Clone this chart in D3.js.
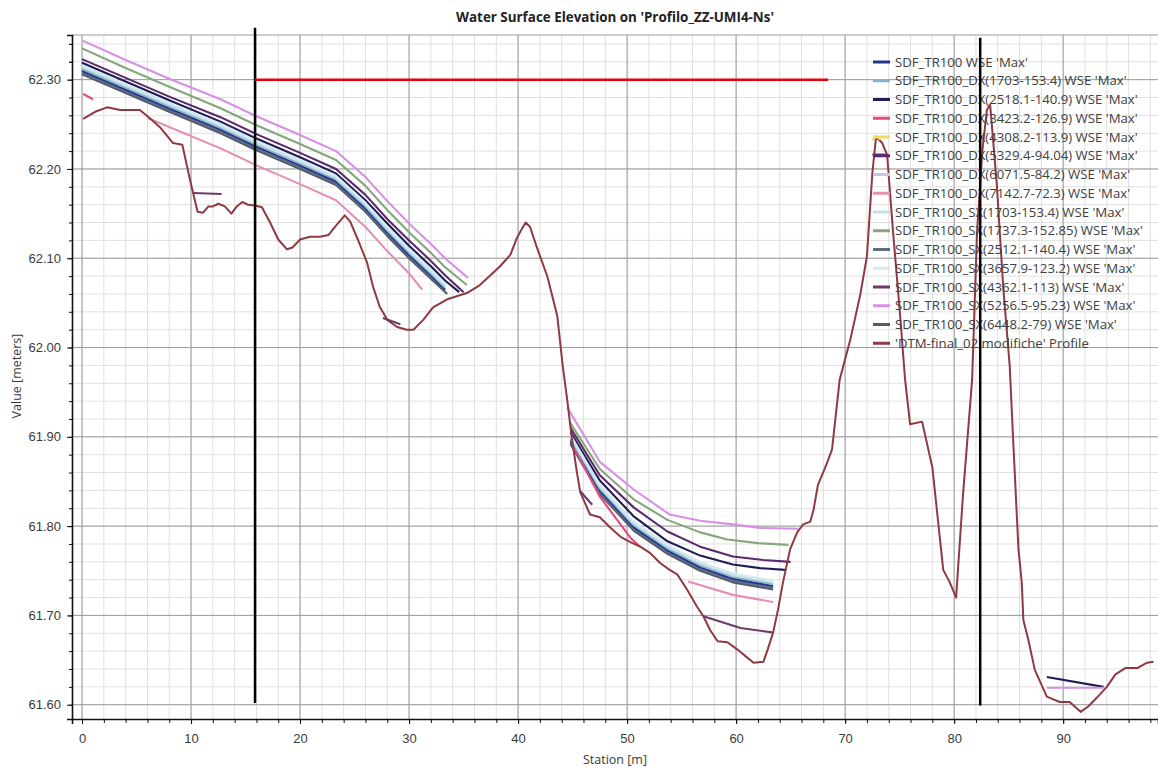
<!DOCTYPE html>
<html>
<head>
<meta charset="utf-8">
<script src="https://cdn.jsdelivr.net/npm/d3@7"></script>
<style>
  body { margin: 0; background: #fff; }
  svg { font-family: "Open Sans", "Noto Sans", sans-serif; }
</style>
</head>
<body>
<div id="chart"></div>
<script>
/* WSE profile chart - HEC-RAS style */

// ---- data: [station, value] pairs, null = break in the line ----
const sdf = [[0,62.310],[4,62.289],[8,62.268],[12.7,62.244],[16,62.225],[20,62.204],[23.3,62.186],[26,62.156],[28,62.129],[30,62.104],[32,62.081],[33.3,62.065],
  null,[44.8,61.896],[47.5,61.840],[50.6,61.799],[53.7,61.773],[56.7,61.754],[59.7,61.741],[63.4,61.733]];
const dx1703 = [[0,62.312],[4,62.291],[8,62.270],[12.7,62.246],[16,62.227],[20,62.206],[23.3,62.188],[26,62.158],[28,62.131],[30,62.106],[32,62.083],[33.3,62.067],
  null,[44.8,61.898],[47.5,61.842],[50.6,61.801],[53.7,61.775],[56.7,61.756],[59.7,61.743],[63.4,61.735]];
const dx2518 = [[0,62.319],[4,62.298],[8,62.277],[12.7,62.253],[16,62.234],[20,62.213],[23.3,62.195],[26,62.165],[28,62.139],[30,62.114],[32,62.091],[33.3,62.075],[34.6,62.062],
  null,[44.8,61.905],[47.5,61.851],[50.6,61.811],[53.7,61.783],[56.7,61.767],[59.7,61.757],[62.2,61.753],[64.5,61.751],
  null,[88.5,61.631],[93.7,61.620]];
const dx3423 = [[0.1,62.284],[1.0,62.278],
  null,[45.0,61.891],[47.5,61.833],[50.3,61.787],[51.2,61.777]];
const dx4308 = [[72.5,62.232],[72.84,62.237],[73.2,62.233]];
const dx5329 = [[0,62.323],[4,62.302],[8,62.281],[12.7,62.258],[16,62.239],[20,62.218],[23.3,62.200],[26,62.171],[28,62.144],[30,62.120],[32,62.097],[33.3,62.081],[35.0,62.062],
  null,[44.8,61.910],[47.5,61.857],[50.6,61.821],[53.7,61.794],[56.7,61.777],[59.7,61.766],[62.5,61.762],[65.0,61.760]];
const dx6071 = [[0,62.315],[4,62.294],[8,62.273],[12.7,62.249],[16,62.230],[20,62.209],[23.3,62.191],[26,62.161],[28,62.134],[30,62.109],[32,62.086],[33.3,62.070],
  null,[44.8,61.901],[47.5,61.845],[50.6,61.804],[53.7,61.778],[56.7,61.759],[59.7,61.746],[63.4,61.738]];
const dx7142 = [[6,62.257],[8,62.247],[12.7,62.223],[16,62.204],[20,62.183],[23.3,62.165],[26,62.135],[28,62.108],[30,62.083],[31.2,62.065],
  null,[55.6,61.738],[59.7,61.723],[63.4,61.715]];
const sx1703 = [[0,62.314],[4,62.293],[8,62.272],[12.7,62.248],[16,62.229],[20,62.208],[23.3,62.190],[26,62.160],[28,62.133],[30,62.108],[32,62.085],[33.3,62.069],
  null,[44.8,61.900],[47.5,61.844],[50.6,61.803],[53.7,61.777],[56.7,61.758],[59.7,61.745],[63.4,61.737]];
const sx1737 = [[0,62.335],[4,62.313],[8,62.292],[12.7,62.268],[16,62.249],[20,62.228],[23.3,62.210],[26,62.181],[28,62.154],[30,62.129],[32,62.106],[33.3,62.090],[35.3,62.070],
  null,[44.7,61.917],[47.5,61.864],[50.6,61.830],[53.7,61.807],[56.7,61.793],[59.2,61.785],[62,61.781],[64.8,61.779]];
const sx2512 = [[0,62.308],[4,62.287],[8,62.266],[12.7,62.242],[16,62.223],[20,62.202],[23.3,62.184],[26,62.154],[28,62.127],[30,62.102],[32,62.079],[33.3,62.063],
  null,[44.8,61.894],[47.5,61.838],[50.6,61.797],[53.7,61.771],[56.7,61.752],[59.7,61.739],[63.4,61.731]];
const sx3657 = [[0,62.316],[4,62.295],[8,62.274],[12.7,62.250],[16,62.231],[20,62.210],[23.3,62.192],[26,62.162],[28,62.135],[30,62.110],[32,62.087],[33.3,62.071],
  null,[44.8,61.902],[47.5,61.846],[50.6,61.805],[53.7,61.779],[56.7,61.760],[59.7,61.747],[63.4,61.739]];
const sx4362 = [[10.2,62.173],[12.8,62.172],
  null,[27.6,62.033],[29.2,62.026],
  null,[45.7,61.839],[46.8,61.824],
  null,[57.0,61.699],[60.4,61.686],[63.3,61.681],
  null,[72.5,62.216],[73.85,62.216]];
const sx5256 = [[0,62.344],[4,62.322],[8,62.301],[12.7,62.278],[16,62.259],[20,62.238],[23.3,62.220],[26,62.191],[28,62.164],[30,62.139],[32,62.116],[33.3,62.100],[35.4,62.078],
  null,[44.5,61.933],[47.5,61.872],[50.6,61.841],[53.9,61.813],[56.7,61.806],[59.7,61.802],[62.2,61.798],[65.7,61.797],
  null,[88.5,61.619],[93.7,61.619]];
const sx6448 = [[0,62.306],[4,62.285],[8,62.264],[12.7,62.240],[16,62.221],[20,62.200],[23.3,62.182],[26,62.152],[28,62.125],[30,62.100],[32,62.077],[33.5,62.060],
  null,[44.8,61.892],[47.5,61.836],[50.6,61.795],[53.7,61.769],[56.7,61.750],[59.7,61.737],[63.4,61.729]];

// ground profile
const dtm = [[0.1,62.256],[1.2,62.264],[2.3,62.269],[3.5,62.266],[5.3,62.266],[6.2,62.257],[7.2,62.246],[8.35,62.229],[9.2,62.227],
  [9.9,62.188],[10.6,62.152],[11.1,62.151],[11.6,62.158],[12.0,62.158],[12.5,62.161],[13.1,62.158],[13.7,62.150],[14.2,62.158],
  [14.7,62.163],[15.2,62.160],[15.9,62.159],[16.5,62.157],[17.25,62.140],[18.0,62.121],[18.8,62.110],[19.3,62.112],[20.0,62.121],
  [20.9,62.124],[21.8,62.124],[22.6,62.126],[23.2,62.135],[24.1,62.148],[24.6,62.141],[25.3,62.121],[26.15,62.095],[26.7,62.068],
  [27.3,62.046],[28.0,62.031],[28.9,62.023],[29.8,62.020],[30.4,62.020],[31.3,62.031],[32.2,62.045],[33.5,62.054],[35.3,62.061],
  [36.5,62.070],[38.35,62.091],[39.3,62.104],[39.9,62.123],[40.4,62.134],[40.7,62.140],[41.1,62.135],[41.7,62.113],[42.7,62.079],
  [43.6,62.035],[44.1,61.979],[44.5,61.942],[44.95,61.897],[45.4,61.860],[45.7,61.838],[46.6,61.813],[47.5,61.810],[48.4,61.799],
  [49.4,61.788],[50.3,61.782],[51.2,61.777],[52.1,61.770],[53.0,61.759],[53.9,61.751],[54.6,61.746],[55.5,61.729],[56.4,61.710],
  [57.0,61.699],[57.6,61.684],[58.3,61.671],[59.2,61.670],[60.1,61.662],[61.0,61.653],[61.6,61.647],[62.5,61.648],[62.9,61.662],
  [63.4,61.681],[63.85,61.707],[64.3,61.737],[64.95,61.774],[65.6,61.793],[66.15,61.802],[66.8,61.805],[67.1,61.818],[67.5,61.846],
  [68.35,61.871],[68.8,61.886],[69.5,61.964],[70.5,62.010],[71.4,62.060],[72.0,62.102],[72.5,62.196],[72.84,62.236],[73.4,62.229],
  [73.85,62.216],[74.4,62.129],[75.05,62.035],[75.5,61.964],[75.96,61.914],[77.06,61.917],[78.0,61.866],[79.0,61.751],[79.6,61.737],
  [80.18,61.720],[80.8,61.833],[81.65,61.964],[82.1,62.129],[82.6,62.222],[83.0,62.266],[83.3,62.272],[83.9,62.185],[84.5,62.068],
  [85.1,61.979],[85.4,61.900],[85.9,61.774],[86.2,61.737],[86.35,61.695],[86.8,61.673],[87.4,61.639],[88.1,61.620],[88.5,61.609],
  [89.1,61.606],[89.7,61.603],[90.6,61.603],[91.6,61.592],[92.3,61.598],[93.1,61.608],[94.0,61.620],[94.8,61.634],[95.7,61.641],
  [96.8,61.641],[97.7,61.647],[98.3,61.648]];

// hand-drawn markers on the original picture
const markerStations = [15.87, 82.39];
const markerTops = [62.358, 62.347];
const markerBottoms = [61.602, 61.599];
const redLineStations = [15.87, 68.44];
const redLineValue = 62.30;

const seriesNames = ["SDF_TR100 WSE 'Max'", "SDF_TR100_DX(1703-153.4) WSE 'Max'", "SDF_TR100_DX(2518.1-140.9) WSE 'Max'",
  "SDF_TR100_DX(3423.2-126.9) WSE 'Max'", "SDF_TR100_DX(4308.2-113.9) WSE 'Max'", "SDF_TR100_DX(5329.4-94.04) WSE 'Max'",
  "SDF_TR100_DX(6071.5-84.2) WSE 'Max'", "SDF_TR100_DX(7142.7-72.3) WSE 'Max'", "SDF_TR100_SX(1703-153.4) WSE 'Max'",
  "SDF_TR100_SX(1737.3-152.85) WSE 'Max'", "SDF_TR100_SX(2512.1-140.4) WSE 'Max'", "SDF_TR100_SX(3657.9-123.2) WSE 'Max'",
  "SDF_TR100_SX(4362.1-113) WSE 'Max'", "SDF_TR100_SX(5256.5-95.23) WSE 'Max'", "SDF_TR100_SX(6448.2-79) WSE 'Max'",
  "'DTM-final_02 modifiche' Profile"];
const seriesData = [sdf, dx1703, dx2518, dx3423, dx4308, dx5329, dx6071, dx7142, sx1703, sx1737, sx2512, sx3657, sx4362, sx5256, sx6448, dtm];
const seriesColors = ["#2b2f8c", "#86b4c8", "#1e1e52", "#e24a80", "#f0dc5a", "#5c2a6c", "#c6c6de", "#e68fb4",
  "#bfe2ea", "#86a67c", "#5a6e84", "#d6e8f0", "#6e3a68", "#d690e4", "#545a64", "#8e3a42"];

// drawing order inside the bundle (light ones on top of dark ones looks like the original)
const drawOrder = [14, 10, 0, 2, 5, 9, 13, 7, 3, 1, 6, 8, 11, 15, 12, 4];

const width = 1158,
      height = 770,
      margin = ({top: 35, right: 0, bottom: 51, left: 72});

let svg = d3.select("#chart")
    .append("svg")
    .attr("width", width)
    .attr("height", height);

let x = d3.scaleLinear()
    .domain([-0.92, 98.7])
    .range([margin.left, width - margin.right]);

let y = d3.scaleLinear()
    .domain([61.584, 62.35])
    .range([height - margin.bottom, margin.top]);

// grid
const minorX = d3.range(0, 99, 2),
      majorX = d3.range(0, 99, 10),
      minorY = d3.range(0, 38).map(i => +(61.60 + i * 0.02).toFixed(2)),
      majorY = d3.range(0, 8).map(i => +(61.60 + i * 0.1).toFixed(2));

let grid = svg.append("g");
grid.selectAll(".mx").data(minorX).join("line")
    .attr("x1", d => x(d)).attr("x2", d => x(d))
    .attr("y1", margin.top).attr("y2", height - margin.bottom)
    .attr("stroke", "#e0e0e0");
grid.selectAll(".my").data(minorY).join("line")
    .attr("x1", margin.left).attr("x2", width)
    .attr("y1", d => y(d)).attr("y2", d => y(d))
    .attr("stroke", "#e0e0e0");
grid.selectAll(".MX").data(majorX).join("line")
    .attr("x1", d => x(d)).attr("x2", d => x(d))
    .attr("y1", margin.top).attr("y2", height - margin.bottom)
    .attr("stroke", "#9c9c9c");
grid.selectAll(".MY").data(majorY).join("line")
    .attr("x1", margin.left).attr("x2", width)
    .attr("y1", d => y(d)).attr("y2", d => y(d))
    .attr("stroke", "#9c9c9c");
svg.append("line")  // top frame
    .attr("x1", margin.left).attr("x2", width)
    .attr("y1", margin.top).attr("y2", margin.top)
    .attr("stroke", "#9c9c9c");

// axes
const yMinor = g => g
    .attr("transform", `translate(${margin.left},0)`)
    .call(d3.axisLeft(y).tickValues(minorY.concat([62.32, 62.34])).tickSize(3).tickFormat(""))
    .call(g => g.select(".domain").remove());
const yAxis = g => g
    .attr("transform", `translate(${margin.left},0)`)
    .call(d3.axisLeft(y).tickValues(majorY).tickSize(5).tickPadding(6).tickFormat(d3.format(".2f")));
const xMinor = g => g
    .attr("transform", `translate(0,${height - margin.bottom})`)
    .call(d3.axisBottom(x).tickValues(minorX).tickSize(4).tickFormat(""))
    .call(g => g.select(".domain").remove());
const xAxis = g => g
    .attr("transform", `translate(0,${height - margin.bottom})`)
    .call(d3.axisBottom(x).tickValues(majorX).tickSize(5).tickPadding(10));

svg.append("g").call(yMinor);
svg.append("g").call(xMinor);
svg.append("g").call(yAxis);
svg.append("g").call(xAxis);

svg.selectAll(".domain").attr("stroke", "#111").attr("stroke-width", 1.6);
svg.selectAll(".tick line").attr("stroke", "#111");
svg.selectAll(".tick text").attr("fill", "#3a3a3a").style("font-size", "13px");

// series lines
const line = d3.line()
    .defined(d => d !== null)
    .x(d => x(d[0]))
    .y(d => y(d[1]));

let lines = svg.append("g").attr("fill", "none").attr("stroke-linejoin", "round");
for (let i of drawOrder) {
    lines.append("path")
        .attr("d", line(seriesData[i]))
        .attr("stroke", seriesColors[i])
        .attr("stroke-width", i == 15 ? 2 : 2.1);
}

// legend (no box, like the original)
let legend = svg.append("g");
seriesNames.forEach((name, i) => {
    let ly = 62 + i * 18.75;
    legend.append("line")
        .attr("x1", 873).attr("x2", 890)
        .attr("y1", ly).attr("y2", ly)
        .attr("stroke", seriesColors[i])
        .attr("stroke-width", 3);
    legend.append("text")
        .attr("x", 895).attr("y", ly + 4.5)
        .attr("fill", "#404040")
        .style("font-size", "13.2px")
        .text(name);
});

// hand markers
svg.selectAll(".marker").data(markerStations).join("line")
    .attr("x1", d => x(d)).attr("x2", d => x(d))
    .attr("y1", (d, i) => y(markerTops[i]))
    .attr("y2", (d, i) => y(markerBottoms[i]))
    .attr("stroke", "#000")
    .attr("stroke-width", 2.5);
svg.append("line")
    .attr("x1", x(redLineStations[0])).attr("x2", x(redLineStations[1]))
    .attr("y1", y(redLineValue)).attr("y2", y(redLineValue))
    .attr("stroke", "#e8000b")
    .attr("stroke-width", 2.5);

// titles
svg.append("text")
    .attr("x", 615).attr("y", 22)
    .attr("text-anchor", "middle")
    .attr("font-weight", "bold")
    .attr("fill", "#222")
    .style("font-size", "13.4px")
    .text("Water Surface Elevation on 'Profilo_ZZ-UMI4-Ns'");

svg.append("text")
    .attr("x", 615).attr("y", 764)
    .attr("text-anchor", "middle")
    .attr("fill", "#3a3a3a")
    .style("font-size", "12.5px")
    .text("Station [m]");

svg.append("text")
    .attr("transform", "translate(21,376) rotate(-90)")
    .attr("text-anchor", "middle")
    .attr("fill", "#3a3a3a")
    .style("font-size", "12.5px")
    .text("Value [meters]");
</script>
</body>
</html>
